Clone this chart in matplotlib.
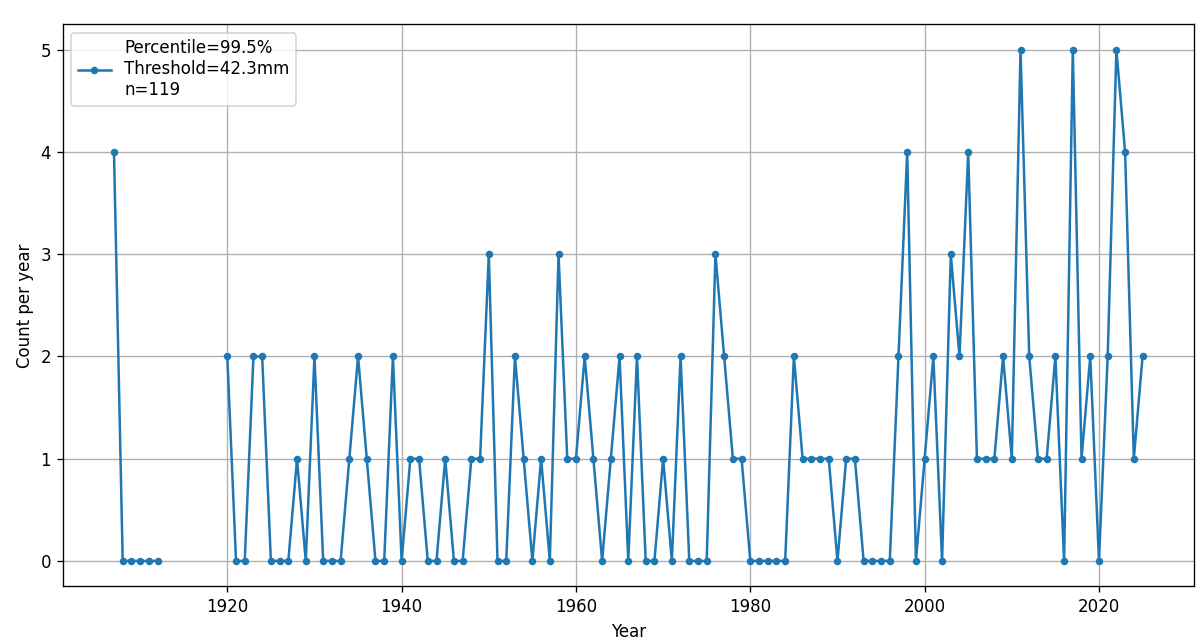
import numpy as np
import matplotlib
matplotlib.use("Agg")
import matplotlib.pyplot as plt

# yearly counts above the threshold, 1913-1919 missing
years = list(range(1907, 2026))
counts_early = [4, 0, 0, 0, 0, 0]                      # 1907-1912
counts_gap = [np.nan] * 7                               # 1913-1919
counts_main = [
    2, 0, 0, 2, 2, 0, 0, 0, 1, 0,   # 1920s
    2, 0, 0, 0, 1, 2, 1, 0, 0, 2,   # 1930s
    0, 1, 1, 0, 0, 1, 0, 0, 1, 1,   # 1940s
    3, 0, 0, 2, 1, 0, 1, 0, 3, 1,   # 1950s
    1, 2, 1, 0, 1, 2, 0, 2, 0, 0,   # 1960s
    1, 0, 2, 0, 0, 0, 3, 2, 1, 1,   # 1970s
    0, 0, 0, 0, 0, 2, 1, 1, 1, 1,   # 1980s
    0, 1, 1, 0, 0, 0, 0, 2, 4, 0,   # 1990s
    1, 2, 0, 3, 2, 4, 1, 1, 1, 2,   # 2000s
    1, 5, 2, 1, 1, 2, 0, 5, 1, 2,   # 2010s
    0, 2, 5, 4, 1, 2,               # 2020-2025
]
counts = counts_early + counts_gap + counts_main

percentile = 99.5
threshold = 42.3
n_events = 119

# 10.025 x 5.367 in at 120 dpi -> 1203 x 644 px
fig = plt.figure(figsize=(1203 / 120, 644 / 120), dpi=120)
ax = fig.add_axes([0.052, 0.0893, 0.9405, 0.873])

label = f"Percentile={percentile}%\nThreshold={threshold}mm\nn={n_events}"
ax.plot(years, counts, marker='o', markersize=3.5, linewidth=1.5, label=label)

ax.set_xlabel("Year")
ax.set_ylabel("Count per year")
ax.grid(True)
ax.legend(loc='upper left')

plt.savefig("out.png")
